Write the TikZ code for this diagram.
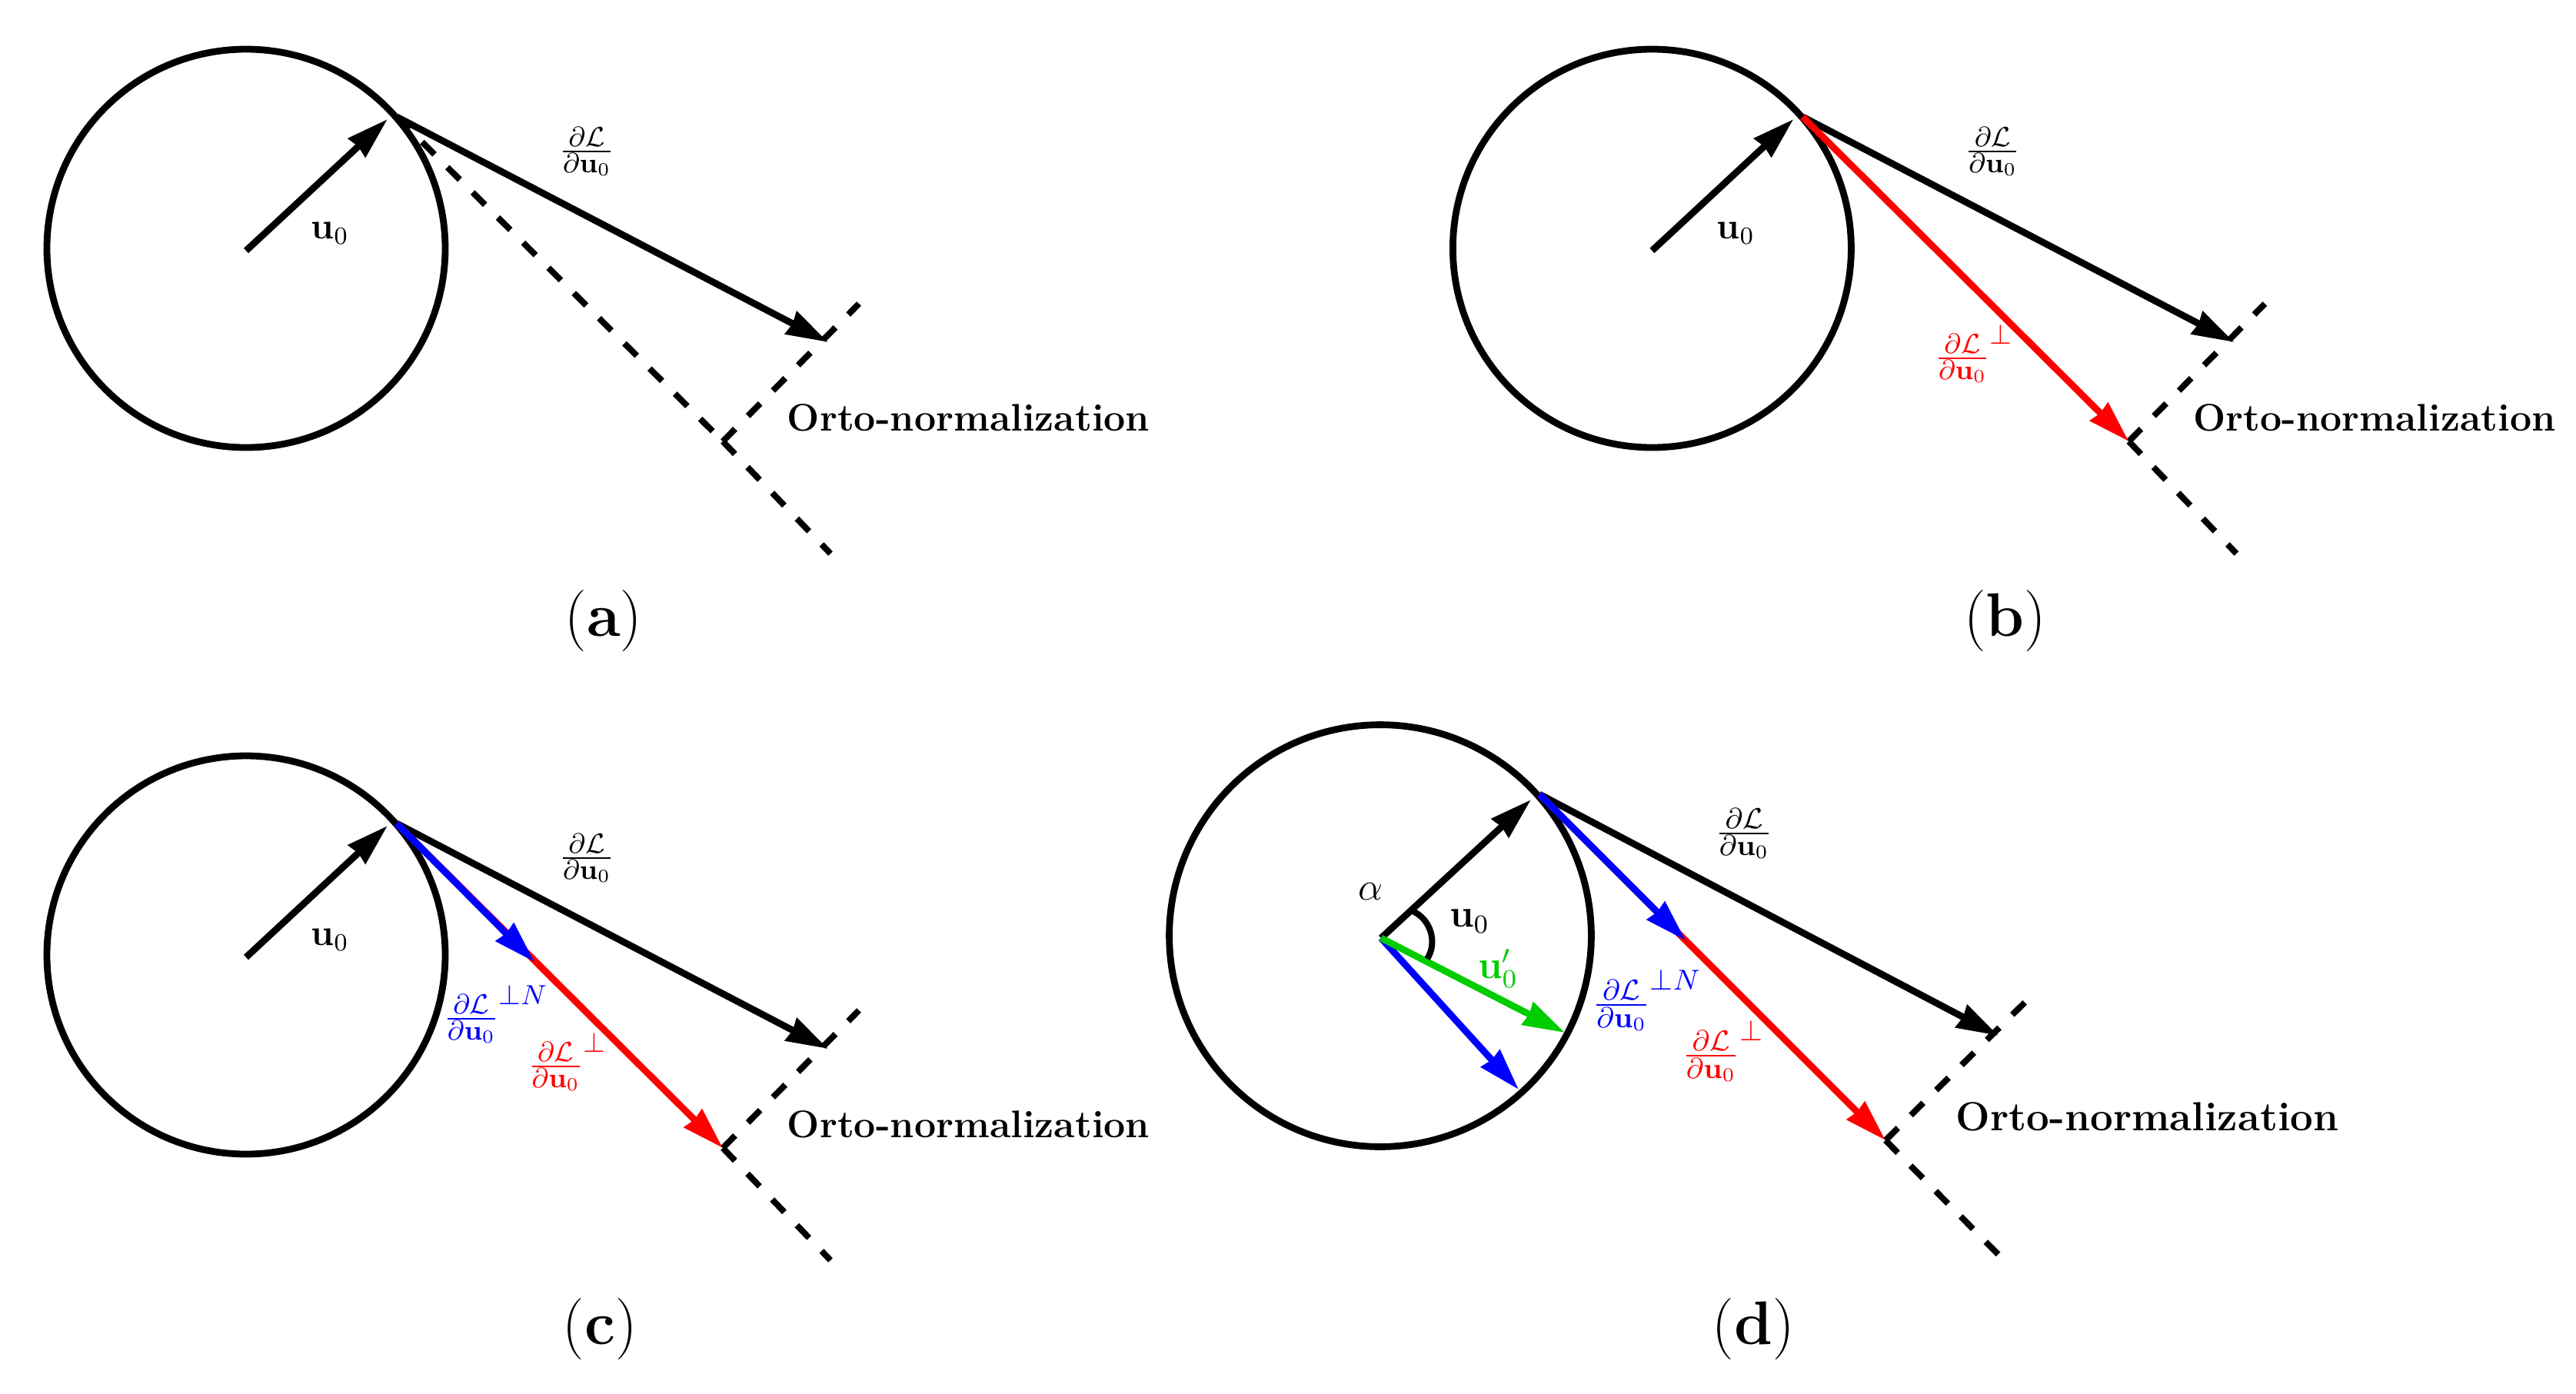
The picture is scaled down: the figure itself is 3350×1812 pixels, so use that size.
\documentclass[tikz,border=0pt]{standalone}
\usepackage{amsmath}
\usetikzlibrary{arrows.meta}
\DeclareMathSizes{10.95}{10.95}{9}{6}
\definecolor{greenvec}{RGB}{0,204,0}
\newcommand{\gradfrac}{\frac{\partial\mathcal{L}}{\partial\mathbf{u}_0}}

\begin{document}
\begin{tikzpicture}[
        x=0.25pt,
        y=-0.25pt,
        sphere/.style={draw, circle, line width=2.2pt, inner sep=0pt},
        vec/.style={line width=2.2pt, -{Stealth[length=13.5pt, width=8pt, inset=0.5pt]}},
        guide/.style={line width=2pt, dash pattern=on 5.7pt off 5.9pt},
        lbl/.style={inner sep=0pt, font=\fontsize{12}{14}\selectfont},
        frac/.style={inner sep=0pt, font=\fontsize{10.95}{13}\selectfont},
        ortho/.style={inner sep=0pt, anchor=base west, font=\fontsize{12.5}{15}\selectfont\bfseries},
        subcap/.style={inner sep=0pt, font=\fontsize{20}{24}\selectfont}
        ]
        \useasboundingbox (0,0) rectangle (3350,1812);

        % panel a: gradient and the plane it is projected on
        \coordinate (originA) at (320,326);
        \coordinate (touchA) at (516,152);
        \coordinate (headA) at (504,155);
        \coordinate (endA) at (1077,445);
        \coordinate (cornerA) at (940,574);
        \coordinate (upA) at (1117,395);
        \coordinate (downA) at (1080,720);
        \node (sphereA) [sphere, minimum size=129.5pt] at (320,323) {};
        \draw[guide] (touchA) -- (cornerA);
        \draw[guide] (cornerA) -- (upA);
        \draw[guide] (cornerA) -- (downA);
        \draw[vec] (originA) -- (headA);
        \draw[vec] (touchA) -- (endA);
        \node (u0A) [lbl] at (429,303) {$\mathbf{u}_0$};
        \node (gradA) [frac] at (763,197) {$\gradfrac$};
        \node (orthoA) [ortho] at (1023,560) {Orto-normalization};
        \node (capA) [subcap] at (785,808) {(\textbf{a})};

        % panel b: adds the tangent component
        \begin{scope}[xshift=457.1pt]
            \coordinate (originB) at (320,326);
            \coordinate (touchB) at (516,152);
            \coordinate (headB) at (504,155);
            \coordinate (endB) at (1077,445);
            \coordinate (cornerB) at (940,574);
            \coordinate (upB) at (1117,395);
            \coordinate (downB) at (1080,720);
            \node (sphereB) [sphere, minimum size=129.5pt] at (320,323) {};
            \draw[guide] (cornerB) -- (upB);
            \draw[guide] (cornerB) -- (downB);
            \draw[vec] (originB) -- (headB);
            \draw[vec] (touchB) -- (endB);
            \draw[vec, red] (touchB) -- (cornerB);
            \node (u0B) [lbl] at (429,303) {$\mathbf{u}_0$};
            \node (gradB) [frac] at (763,197) {$\gradfrac$};
            \node (tangB) [frac, red] at (739,460) {$\gradfrac^{\perp}$};
            \node (orthoB) [ortho] at (1023,560) {Orto-normalization};
            \node (capB) [subcap] at (779,808) {(\textbf{b})};
        \end{scope}

        % panel c: adds the normalized tangent
        \begin{scope}[yshift=-229.75pt]
            \coordinate (originC) at (320,326);
            \coordinate (touchC) at (516,152);
            \coordinate (headC) at (504,155);
            \coordinate (endC) at (1077,445);
            \coordinate (cornerC) at (940,574);
            \coordinate (upC) at (1117,395);
            \coordinate (downC) at (1080,720);
            \coordinate (normC) at (695,332);
            \node (sphereC) [sphere, minimum size=129.5pt] at (320,323) {};
            \draw[guide] (cornerC) -- (upC);
            \draw[guide] (cornerC) -- (downC);
            \draw[vec] (originC) -- (headC);
            \draw[vec] (touchC) -- (endC);
            \draw[vec, red] (touchC) -- (cornerC);
            \draw[vec, blue] (touchC) -- (normC);
            \node (u0C) [lbl] at (429,303) {$\mathbf{u}_0$};
            \node (gradC) [frac] at (763,197) {$\gradfrac$};
            \node (normlblC) [frac, blue] at (645,400) {$\gradfrac^{\perp N}$};
            \node (tangC) [frac, red] at (738,462) {$\gradfrac^{\perp}$};
            \node (orthoC) [ortho] at (1023,560) {Orto-normalization};
            \node (capC) [subcap] at (780,810) {(\textbf{c})};
        \end{scope}

        % panel d: rotated vector, angle between old and new
        \coordinate (originD) at (1796,1220);
        \coordinate (touchD) at (2002,1033);
        \coordinate (headD) at (1991,1040);
        \coordinate (endD) at (2599,1347);
        \coordinate (cornerD) at (2452,1483);
        \coordinate (upD) at (2642,1295);
        \coordinate (downD) at (2609,1642);
        \coordinate (normD) at (2192,1223);
        \coordinate (copyD) at (1975,1417);
        \coordinate (newD) at (2035,1343);
        \coordinate (arcstartD) at (1837,1185);
        \coordinate (arcendD) at (1856,1247);
        \node (sphereD) [sphere, minimum size=137.2pt] at (1795,1217) {};
        \draw[guide] (cornerD) -- (upD);
        \draw[guide] (cornerD) -- (downD);
        \draw[vec] (originD) -- (headD);
        \draw[vec] (touchD) -- (endD);
        \draw[vec, red] (touchD) -- (cornerD);
        \draw[vec, blue] (touchD) -- (normD);
        \draw[vec, blue] (originD) -- (copyD);
        \draw[vec, greenvec] (originD) -- (newD);
        \draw[line width=2pt] (arcstartD) to[bend left=50] (arcendD);
        \node (alphaD) [lbl, scale=1.06] at (1782,1160) {$\alpha$};
        \node (u0D) [lbl, scale=1.06] at (1911,1198) {$\mathbf{u}_0$};
        \node (u1D) [lbl, greenvec, scale=1.06] at (1948,1260) {$\mathbf{u}_0'$};
        \node (gradD) [frac, scale=1.04] at (2268,1084) {$\gradfrac$};
        \node (normlblD) [frac, blue, scale=1.04] at (2142,1301) {$\gradfrac^{\perp N}$};
        \node (tangD) [frac, red, scale=1.04] at (2241,1367) {$\gradfrac^{\perp}$};
        \node (orthoD) [ortho, font=\fontsize{13.2}{16}\selectfont\bfseries] at (2543,1470) {Orto-normalization};
        \node (capD) [subcap] at (2280,1729) {(\textbf{d})};
\end{tikzpicture}
\end{document}
